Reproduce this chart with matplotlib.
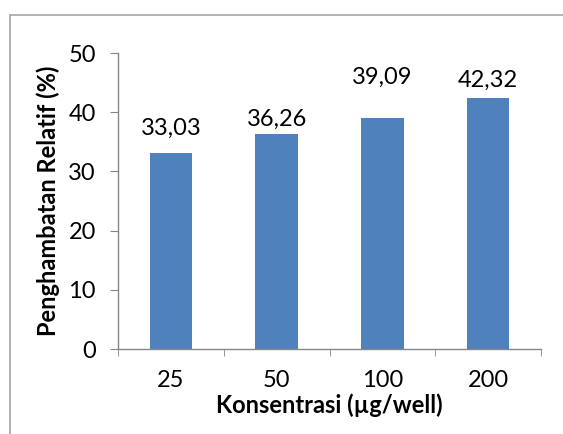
import matplotlib.pyplot as plt
from matplotlib.patches import Rectangle

categories = ['25', '50', '100', '200']
values = [33.03, 36.26, 39.09, 42.32]
value_labels = ['33,03', '36,26', '39,09', '42,32']

# labels were nudged by hand in the original, gap above bar in pixels
label_gap = [19, 8, 34, 12]

plt.rcParams['font.family'] = ['Lato', 'DejaVu Sans']

fig = plt.figure(figsize=(5.63, 4.34), dpi=100)
ax = fig.add_axes([118 / 563, 1 - 349 / 434, (541 - 118) / 563, (349 - 53) / 434])

# chart frame, cut off at right and bottom like the original
fig.patches.append(Rectangle((10 / 563, -0.1), 1.2, 1 - 15 / 434 + 0.1,
                             transform=fig.transFigure, fill=False,
                             edgecolor='#a6a6a6', linewidth=1.2))

x = range(len(categories))
bars = ax.bar(x, values, width=0.4, color='#4f81bd')

for b, lab, g in zip(bars, value_labels, label_gap):
    ax.annotate(lab, (b.get_x() + b.get_width() / 2, b.get_height()),
                xytext=(0, g), textcoords='offset pixels',
                ha='center', va='baseline', fontsize=17)

ax.set_xlim(-0.5, 3.5)
ax.set_ylim(0, 50)
ax.set_yticks([0, 10, 20, 30, 40, 50])
ax.set_xticks(list(x))
ax.set_xticklabels(categories)
ax.set_xticks([-0.5, 0.5, 1.5, 2.5, 3.5], minor=True)

for s in ['top', 'right']:
    ax.spines[s].set_visible(False)
for s in ['left', 'bottom']:
    ax.spines[s].set_color('#868686')
    ax.spines[s].set_linewidth(1.0)

ax.tick_params(axis='y', direction='out', length=6, color='#868686',
               labelsize=17, pad=10)
ax.tick_params(axis='x', which='major', length=0, labelsize=17, pad=15)
ax.tick_params(axis='x', which='minor', direction='out', length=5,
               color='#868686')

ax.set_ylabel('Penghambatan Relatif (%)', fontsize=17, fontweight='bold',
              labelpad=6)
ax.set_xlabel('Konsentrasi (µg/well)', fontsize=17, fontweight='bold',
              labelpad=2)

fig.savefig('out.png', dpi=100)
